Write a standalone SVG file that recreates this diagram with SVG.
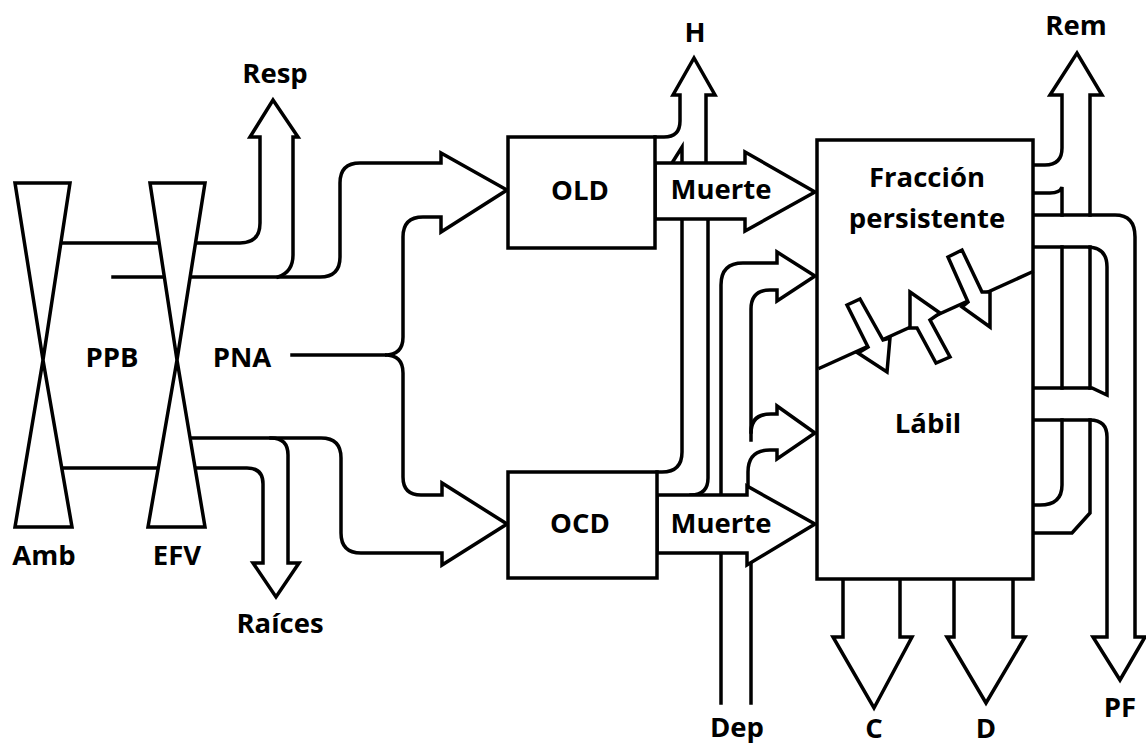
<svg xmlns="http://www.w3.org/2000/svg" width="1146" height="747" viewBox="0 0 1146 747">
<style>
.ln{fill:none;stroke:#000;stroke-width:3.5;stroke-linejoin:miter;stroke-linecap:square}
.sh{fill:#fff;stroke:#000;stroke-width:3.5;stroke-linejoin:miter}
.t{font-family:"Open Sans","Liberation Sans",sans-serif;font-weight:700;font-size:27.5px;fill:#000;text-anchor:middle}
</style>
<rect width="1146" height="747" fill="#fff"/>
<g id="connectors">
  <path class="ln" d="M61,243 H240 Q260,243 260,223 V137 H250 L273,100 L298,137 H293 V255 Q293,272 278,277"/>
  <path class="ln" d="M113,277 H320 Q340,277 340,257 V183 Q340,163 360,163 H441 V153 L507,190 L441,232 V217 H423 Q403,217 403,237 V337 Q403,355 385,355 Q403,355 403,373 V477 Q403,495 421,495 H442 V483 L507,524 L442,565 V553 H361 Q341,553 341,533 V458 Q341,438 321,438 H185"/>
  <path class="ln" d="M292,355 H385"/>
  <path class="ln" d="M62,468 H247 Q263,468 263,484 V563 H253 L276,597 L299,563 H288 V455 Q288,438 271,438"/>
  <path class="ln" d="M655,137 H664 Q680,137 680,121 V95 H673 L694,58 L715,95 H706 V163"/>
  <path class="ln" d="M672,163 L682,147 V163"/>
  <path class="ln" d="M682,219 V452 Q682,472 662,472 H657"/>
  <path class="ln" d="M708,219 V478 Q708,495 691,495"/>
  <path class="ln" d="M721,495 V285 Q721,263 743,263 H777 V252 L815,276 L777,301 V290 H770 Q751,290 751,309 V440"/>
  <path class="ln" d="M751,432 Q751,414 771,414 H777 V406 L815,433 L777,459 V450 H770 Q748,450 748,472 V495"/>
  <path class="ln" d="M721,553 V703"/>
  <path class="ln" d="M751,563 V703"/>
  <path class="sh" d="M655,163 H745 V152 L815,192 L745,231 V219 H655 Z"/>
  <path class="sh" d="M657,495 H747 V486 L815,524 L747,565 V553 H657 Z"/>
  <path class="ln" d="M1033,165 H1045 Q1062,165 1062,148 V95 H1050 L1077,53 L1102,95 H1090 V215"/>
  <path class="ln" d="M1033,193 H1050 Q1060,193 1062,187 V215"/>
  <path class="ln" d="M1033,215 H1115 Q1135,215 1135,237 V637 H1145 L1120,680 L1093,637 H1107 V437 Q1107,420 1090,420 H1033"/>
  <path class="ln" d="M1033,247 H1087 Q1107,247 1107,267 V395 L1092,388 H1033"/>
  <path class="ln" d="M1062,247 V388 M1090,247 V388"/>
  <path class="ln" d="M1062,420 V485 Q1062,505 1040,505 H1033"/>
  <path class="ln" d="M1090,420 V513 L1072,533 H1033"/>
  <path class="ln" d="M843,579 V637 H833 L874,708 L912,637 H900 V579"/>
  <path class="ln" d="M954,579 V637 H947 L986,703 L1025,637 H1013 V579"/>
</g>
<g id="amb">
  <path class="sh" d="M15,183 H70 L43,360 Z"/>
  <path class="sh" d="M43,360 L72,527 H15 Z"/>
</g>
<g id="efv">
  <path class="sh" d="M150,183 H205 L177,360 Z"/>
  <path class="sh" d="M177,360 L205,527 H148 Z"/>
</g>
<g id="old">
  <rect class="sh" x="508" y="137" width="147" height="111"/>
  <text class="t" x="580" y="200">OLD</text>
</g>
<g id="ocd">
  <rect class="sh" x="508" y="472" width="149" height="106"/>
  <text class="t" x="580" y="533">OCD</text>
</g>
<g id="pool">
  <rect class="sh" x="817" y="140" width="216" height="439"/>
  <path class="ln" d="M820,368 L1032,272"/>
  <path class="sh" d="M847,305 L860,299 L883,340 L890,338 L887,372 L858,353 L868,347 Z"/>
  <path class="sh" d="M910,292 L940,313 L930,320 L950,357 L936,363 L917,328 L910,328 Z"/>
  <path class="sh" d="M948,257 L962,250 L982,292 L990,292 L990,327 L962,307 L968,302 Z"/>
  <text class="t" x="927" y="187">Fracción</text>
  <text class="t" x="927" y="228">persistente</text>
  <text class="t" x="928" y="433">Lábil</text>
</g>
<g id="labels">
  <text class="t" x="275" y="83">Resp</text>
  <text class="t" x="695" y="42">H</text>
  <text class="t" x="1076" y="35">Rem</text>
  <text class="t" x="112" y="367">PPB</text>
  <text class="t" x="242" y="367">PNA</text>
  <text class="t" x="44" y="565">Amb</text>
  <text class="t" x="177" y="565">EFV</text>
  <text class="t" x="280" y="633">Raíces</text>
  <text class="t" x="721" y="199">Muerte</text>
  <text class="t" x="721" y="533">Muerte</text>
  <text class="t" x="737" y="737">Dep</text>
  <text class="t" x="874" y="738">C</text>
  <text class="t" x="986" y="738">D</text>
  <text class="t" x="1120" y="717">PF</text>
</g>
</svg>
